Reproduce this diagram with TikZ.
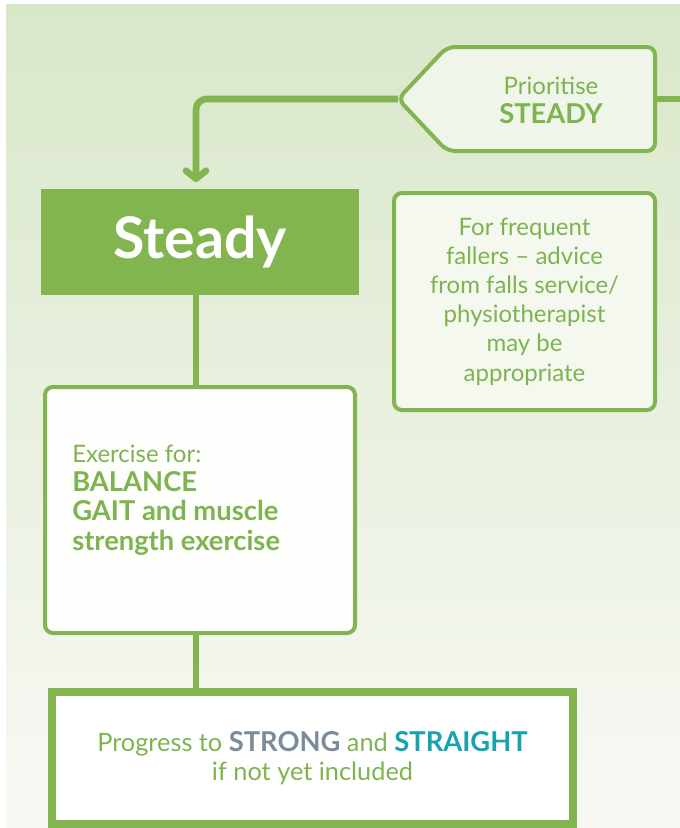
\documentclass[tikz,border=0pt]{standalone}
\usepackage{fontspec}
\setmainfont{Lato}
\usetikzlibrary{arrows.meta}
\definecolor{leaf}{HTML}{82B450}
\definecolor{leaftext}{HTML}{7DB44F}
\definecolor{slate}{HTML}{7B8B9A}
\definecolor{aqua}{HTML}{17A2AE}
\definecolor{bgtop}{HTML}{D9E7C9}
\definecolor{bgbot}{HTML}{F8F9F5}
\newcommand\bigbf[1]{{\fontsize{20.5}{21.9}\selectfont\bfseries #1}}
\tikzset{
  box/.style={draw=leaf, line width=3pt, rounded corners=6pt, fill=#1},
  txt/.style={text=leaftext, font=\fontsize{18}{21.9}\selectfont, align=center},
  link/.style={draw=leaf, line width=5pt},
}
\begin{document}
\begin{tikzpicture}[x=0.75pt,y=-0.75pt]
    \useasboundingbox (0,0) rectangle (680,828);
    \shade[top color=bgtop, bottom color=bgbot] (6,4) rectangle (680,828);

    \coordinate (tip) at (398,99);
    \coordinate (pr) at (655,99);
    \coordinate (out) at (682,99);
    \draw[box=white!60!bgtop] (tip) -- (447,47) -- (655,47) -- (655,151) -- (447,151) -- cycle;
    \node[txt] (prio) at (551,100) {Prioritise\\\bigbf{STEADY}};
    \node[box=white!70!bgtop, txt, minimum width=195.75pt, minimum height=162.75pt] (falls) at (524.5,301.5)
        {For frequent\\fallers -- advice\\from falls service/\\physiotherapist\\may be\\appropriate};
    \node[fill=leaf, minimum width=238.5pt, minimum height=79.5pt, text=white,
        font=\fontsize{43}{48}\selectfont\bfseries] (steady) at (200,242) {Steady};
    \node[box=white!97!bgtop, minimum width=232.5pt, minimum height=184.5pt] (ex) at (200,510) {};
    \node[txt, align=left, anchor=base west, inner sep=0pt] (exlist) at (72,550)
        {Exercise for:\\\bigbf{BALANCE}\\\bigbf{GAIT and muscle}\\\bigbf{strength exercise}};
    \node[draw=leaf, line width=6pt, fill=white, txt, font=\fontsize{19}{21.9}\selectfont,
        minimum width=390.75pt, minimum height=99pt] (prog) at (312.5,758)
        {Progress to \bigbf{\color{slate}STRONG} and \bigbf{\color{aqua}STRAIGHT}\\if not yet included};

    \draw[link, rounded corners=8pt, shorten >=5pt, -{Straight Barb[length=6pt,width=15pt,round]}]
        (tip) -| ([xshift=-3pt]steady.north);
    \draw[link] (pr) -- (out);
    \draw[link] ([xshift=-3pt]steady.south) -- ([xshift=-3pt]ex.north);
    \draw[link] ([xshift=-3pt]ex.south) -- ([xshift=-3pt]ex.south |- prog.north);
\end{tikzpicture}
\end{document}
